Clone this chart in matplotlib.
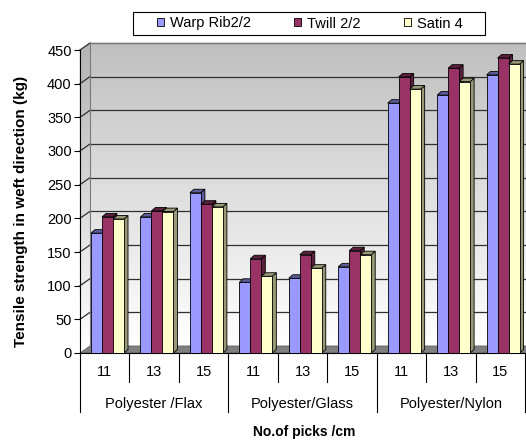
import matplotlib.pyplot as plt
from matplotlib.patches import Polygon, Rectangle
import numpy as np

plt.rcParams['font.family'] = ['Liberation Sans', 'DejaVu Sans']

# tensile strength (kg) per fabric group and pick density
groups = ["Polyester /Flax", "Polyester/Glass", "Polyester/Nylon"]
picks = ["11", "13", "15"]
warp_rib = [178, 202, 238, 105, 111, 128, 371, 383, 413]
twill = [202, 211, 221, 140, 146, 152, 410, 423, 438]
satin = [199, 210, 217, 114, 126, 146, 392, 403, 429]

series = [("Warp Rib2/2", warp_rib, "#9999ff", "#5c5c99"),
          ("Twill 2/2", twill, "#993366", "#5c1f3d"),
          ("Satin 4", satin, "#ffffcc", "#999978")]

W, H = 526, 441
fig = plt.figure(figsize=(W / 100, H / 100), dpi=100)
# front plane of the chart: x 80..525 px, y 353..50 px
ax = fig.add_axes([80 / W, (H - 353) / H, 445 / W, 303 / H])
ymax = 450
ncat = len(groups) * len(picks)
ax.set_xlim(0, ncat)
ax.set_ylim(0, ymax)

px_x = 445 / ncat      # px per category
px_y = 303 / ymax      # px per kg
dxw, dyw = 10 / px_x, 7 / px_y      # wall depth
dxb, dyb = 4 / px_x, 3.5 / px_y     # bar depth


def lerp(c0, c1, t):
    return tuple(a + (b - a) * t for a, b in zip(c0, c1))


n = 80
wall_top = (0.75, 0.75, 0.75)
side_top = (0.70, 0.70, 0.70)
white = (1.0, 1.0, 1.0)
for i in range(n):
    t0, t1 = i / n, (i + 1) / n
    # back wall strip
    col = lerp(white, wall_top, (t0 + t1) / 2)
    ax.add_patch(Rectangle((dxw, dyw + ymax * t0), ncat, ymax * (t1 - t0),
                           facecolor=col, edgecolor=col, lw=0.3, clip_on=False, zorder=0))
    # left side wall strip (skewed)
    col = lerp(white, side_top, (t0 + t1) / 2)
    poly = [(0, ymax * t0), (dxw, dyw + ymax * t0), (dxw, dyw + ymax * t1), (0, ymax * t1)]
    ax.add_patch(Polygon(poly, closed=True, facecolor=col, edgecolor=col,
                         lw=0.3, clip_on=False, zorder=0))

# floor
ax.add_patch(Polygon([(0, 0), (ncat, 0), (ncat + dxw, dyw), (dxw, dyw)], closed=True,
                     facecolor="#808080", edgecolor="#606060", lw=0.6,
                     clip_on=False, zorder=1))

# gridlines on back wall and left wall
for v in range(50, ymax + 1, 50):
    ax.plot([dxw, ncat + dxw], [v + dyw, v + dyw], color="#303030", lw=0.9,
            clip_on=False, zorder=1)
    ax.plot([0, dxw], [v, v + dyw], color="#303030", lw=0.9, clip_on=False, zorder=1)
ax.plot([dxw, dxw], [dyw, ymax + dyw], color="#7a7a7a", lw=0.8, clip_on=False, zorder=1)
ax.plot([dxw, ncat + dxw], [ymax + dyw, ymax + dyw], color="#7a7a7a", lw=0.8,
        clip_on=False, zorder=1)

# bars with depth faces
x = np.arange(ncat)
bw = 11 / px_x
x0 = 11 / px_x
handles = []
for k, (name, vals, fc, dc) in enumerate(series):
    z = 3 + k
    bars = ax.bar(x + x0 + k * bw, vals, width=bw, align="edge", color=fc,
                  edgecolor="black", linewidth=0.6, zorder=z + 0.5, label=name)
    handles.append(bars)
    for b in bars:
        bx, bh, w = b.get_x(), b.get_height(), b.get_width()
        side = [(bx + w, 0), (bx + w + dxb, dyb), (bx + w + dxb, bh + dyb), (bx + w, bh)]
        top = [(bx, bh), (bx + w, bh), (bx + w + dxb, bh + dyb), (bx + dxb, bh + dyb)]
        ax.add_patch(Polygon(side, closed=True, facecolor=dc, edgecolor="black",
                             lw=0.6, zorder=z, clip_on=False))
        ax.add_patch(Polygon(top, closed=True, facecolor=dc, edgecolor="black",
                             lw=0.6, zorder=z, clip_on=False))

# axes
for s in ["top", "right", "bottom"]:
    ax.spines[s].set_visible(False)
ax.spines["left"].set_color("black")
ax.spines["left"].set_linewidth(0.8)
ax.plot([0, ncat], [0, 0], color="black", lw=0.8, clip_on=False, zorder=2)
ax.set_yticks(range(0, ymax + 1, 50))
ax.tick_params(axis="y", direction="out", length=4, width=0.8, labelsize=10.5, pad=2)
ax.set_xticks([])
ax.patch.set_visible(False)

# two-level category axis
short_y = -29 / px_y
long_y = -59 / px_y
for i in range(ncat + 1):
    yy = long_y if i % len(picks) == 0 else short_y
    ax.plot([i, i], [0, yy], color="black", lw=0.8, clip_on=False)
for i in range(ncat):
    ax.text(i + 0.5, -19 / px_y, picks[i % len(picks)], ha="center", va="center",
            fontsize=10.5)
for g, name in enumerate(groups):
    ax.text(g * len(picks) + len(picks) / 2, -51 / px_y, name, ha="center",
            va="center", fontsize=10.5)

fig.text(304 / W, 1 - 432 / H, "No.of picks /cm", ha="center", va="center",
         fontsize=10, fontweight="bold")
fig.text(21 / W, 1 - 211 / H, "Tensile strength in weft direction (kg)", ha="center",
         va="center", rotation=90, fontsize=11, fontweight="bold")

# legend with its own box
fig.patches.append(Rectangle((133 / W, 1 - 35 / H), 352 / W, 23 / H,
                             transform=fig.transFigure, facecolor="white",
                             edgecolor="black", lw=0.8))
leg = fig.legend(handles=handles, loc="center left", bbox_to_anchor=(157 / W, 1 - 23.5 / H),
                 ncol=3, frameon=False, fontsize=10.5, borderpad=0, borderaxespad=0,
                 handlelength=0.5, handleheight=0.5, handletextpad=0.4,
                 columnspacing=2.95)

fig.savefig("out.png", dpi=100)
